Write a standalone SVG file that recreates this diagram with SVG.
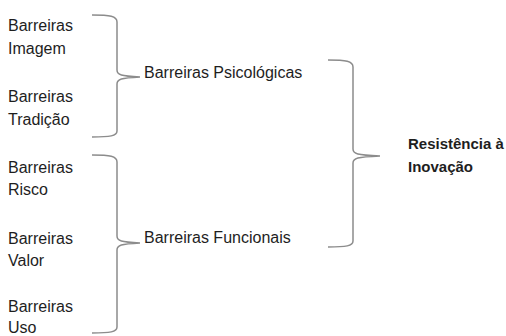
<svg xmlns="http://www.w3.org/2000/svg" width="506" height="336" viewBox="0 0 506 336">
<style>
text{font-family:"Liberation Sans",Arial,sans-serif;font-size:16px;fill:#1e1e1e}
.b{font-weight:bold;font-size:15px}
.br{fill:none;stroke:#8c8c8c;stroke-width:1.5}
</style>
<rect width="506" height="336" fill="#fff"/>
<g id="connectors">
<path class="br" d="M92,15 C110,15 117,16 117,22 L117,70 C117,75 121,76 140,77 C121,78 117,79 117,84 L117,131 C117,136 110,137 92,137"/>
<path class="br" d="M92,155 C110,155 117,156 117,162 L117,236 C117,241 121,242 140,243 C121,244 117,245 117,250 L117,327 C117,332 110,333 92,333"/>
<path class="br" d="M328,60 C346,60 353,61 353,67 L353,149 C353,154 357,155 380,156 C357,157 353,158 353,163 L353,241 C353,246 346,247 328,247"/>
</g>
<g id="n-imagem"><text x="8" y="31">Barreiras</text><text x="8" y="54">Imagem</text></g>
<g id="n-tradicao"><text x="8" y="102">Barreiras</text><text x="8" y="125">Tradição</text></g>
<g id="n-risco"><text x="8" y="173">Barreiras</text><text x="8" y="195">Risco</text></g>
<g id="n-valor"><text x="8" y="244">Barreiras</text><text x="8" y="266">Valor</text></g>
<g id="n-uso"><text x="8" y="312">Barreiras</text><text x="8" y="333">Uso</text></g>
<g id="n-psicologicas"><text x="144" y="78">Barreiras Psicológicas</text></g>
<g id="n-funcionais"><text x="144" y="243">Barreiras Funcionais</text></g>
<g id="n-resistencia"><text class="b" x="408" y="149">Resistência à</text><text class="b" x="408" y="172">Inovação</text></g>
</svg>
